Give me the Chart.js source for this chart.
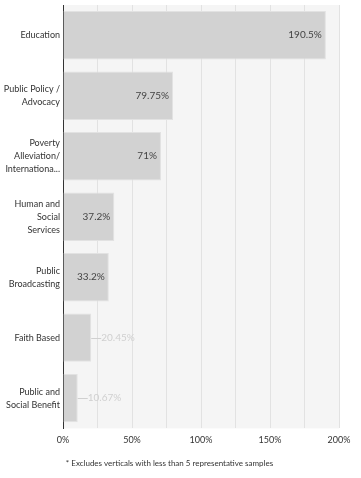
<!DOCTYPE html>
<html><head><meta charset="utf-8">
<script src="https://cdn.jsdelivr.net/npm/chart.js@4"></script>
<style>html,body{margin:0;padding:0;background:#fff}#wrap{width:361px;height:478px;position:relative}</style>
</head><body><div id="wrap"><canvas id="c" width="361" height="478"></canvas></div>
<script>
const categories = [
  ["Education"],
  ["Public Policy /","Advocacy"],
  ["Poverty","Alleviation/","Internationa..."],
  ["Human and","Social","Services"],
  ["Public","Broadcasting"],
  ["Faith Based"],
  ["Public and","Social Benefit"]
];
const values = [190.5, 79.75, 71, 37.2, 33.2, 20.45, 10.67];
const valueLabels = ["190.5%","79.75%","71%","37.2%","33.2%","20.45%","10.67%"];
const xTicks = [0, 50, 100, 150, 200];
const footnote = "* Excludes verticals with less than 5 representative samples";

const FONT = "Lato, 'Open Sans', sans-serif";

const bgPlugin = {
  id: 'bg',
  beforeDraw(chart) {
    const {ctx, chartArea: a} = chart;
    ctx.save();
    ctx.fillStyle = '#f5f5f5';
    ctx.fillRect(a.left, a.top, a.right - a.left, a.bottom - a.top);
    ctx.restore();
  }
};

const labelPlugin = {
  id: 'vlabels',
  afterDatasetsDraw(chart) {
    const {ctx} = chart;
    const meta = chart.getDatasetMeta(0);
    ctx.save();
    ctx.font = "10px " + FONT;
    ctx.textBaseline = 'middle';
    meta.data.forEach((bar, i) => {
      const txt = valueLabels[i];
      const w = ctx.measureText(txt).width;
      const barW = bar.x - bar.base;
      if (w + 8 < barW) {
        ctx.fillStyle = '#444';
        ctx.textAlign = 'right';
        ctx.fillText(txt, bar.x - 4, bar.y);
      } else {
        ctx.strokeStyle = '#d0d0d0';
        ctx.lineWidth = 1;
        ctx.beginPath();
        ctx.moveTo(bar.x, Math.round(bar.y) + 0.5);
        ctx.lineTo(bar.x + 10, Math.round(bar.y) + 0.5);
        ctx.stroke();
        ctx.fillStyle = '#d0d0d0';
        ctx.textAlign = 'left';
        ctx.fillText(txt, bar.x + 10, bar.y);
      }
    });
    ctx.restore();
  }
};

new Chart(document.getElementById('c'), {
  type: 'bar',
  data: {
    labels: categories,
    datasets: [{
      data: values,
      backgroundColor: '#d2d2d2',
      borderColor: '#e2e2e2',
      borderWidth: 1,
      barPercentage: 0.8,
      categoryPercentage: 1
    }]
  },
  options: {
    indexAxis: 'y',
    responsive: false,
    animation: false,
    devicePixelRatio: 1,
    layout: { padding: { top: 5, right: 22, left: 0, bottom: 0 } },
    plugins: {
      legend: { display: false },
      tooltip: { enabled: false },
      title: {
        display: true,
        position: 'bottom',
        text: footnote,
        color: '#333',
        font: { family: FONT, size: 8, weight: 'normal' },
        padding: { top: 6, bottom: 10 }
      }
    },
    scales: {
      x: {
        min: 0, max: 200,
        afterBuildTicks(scale) {
          const t = [];
          for (let v = 0; v <= 200; v += 25) t.push({value: v});
          scale.ticks = t;
        },
        afterFit(scale) { scale.height = 24; },
        grid: { color: '#e2e2e2', lineWidth: 1, drawTicks: false },
        border: { display: false },
        ticks: {
          padding: 6,
          color: '#333',
          font: { family: FONT, size: 9 },
          autoSkip: false,
          maxRotation: 0,
          callback: (v) => xTicks.includes(v) ? v + '%' : ''
        }
      },
      y: {
        afterFit(scale) { scale.width = 63; scale.paddingTop = 0; scale.paddingBottom = 0; },
        grid: { display: false, drawTicks: false },
        border: { display: true, color: '#333', width: 1 },
        ticks: {
          padding: 3,
          color: '#333',
          font: { family: FONT, size: 9, lineHeight: 1.45 },
          autoSkip: false
        }
      }
    }
  },
  plugins: [bgPlugin, labelPlugin]
});
</script></body></html>
